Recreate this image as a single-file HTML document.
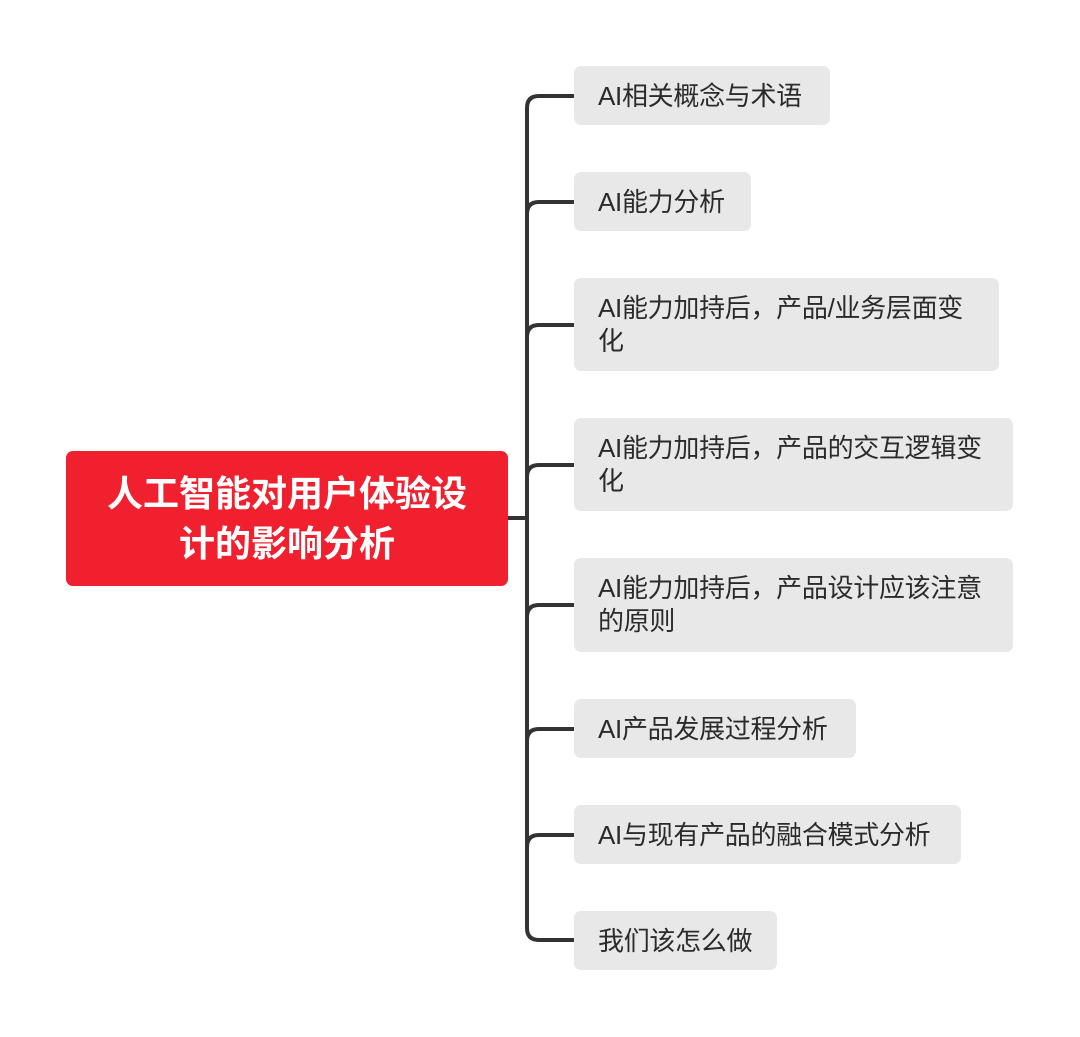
<!DOCTYPE html>
<html><head><meta charset="utf-8"><style>
body{margin:0;background:#fff;width:1080px;height:1037px;position:relative;overflow:hidden;font-family:"Liberation Sans","Noto Sans CJK SC",sans-serif}
.n{position:absolute;left:574px;background:#e8e8e8;border-radius:7px;color:#2b2b2b;font-size:26px;line-height:33px;padding:14px 0 12px 24px;box-sizing:border-box;white-space:nowrap;letter-spacing:-0.3px}
.root{position:absolute;left:66px;top:451px;width:442px;height:135px;background:#f0202e;border-radius:7px;color:#fff;font-weight:bold;font-size:36px;line-height:50px;text-align:center;display:flex;align-items:center;justify-content:center;box-sizing:border-box;white-space:nowrap}
</style></head><body>
<svg width="1080" height="1037" style="position:absolute;left:0;top:0" fill="none" stroke="#333" stroke-width="4">
<path d="M508,518 H527"/>
<path d="M574,96 H539 Q527,96 527,108 V928 Q527,940 539,940 H574"/>
<path d="M527,214 Q527,202 539,202 H574"/>
<path d="M527,337 Q527,325 539,325 H574"/>
<path d="M527,477 Q527,465 539,465 H574"/>
<path d="M527,617 Q527,605 539,605 H574"/>
<path d="M527,741 Q527,729 539,729 H574"/>
<path d="M527,847 Q527,835 539,835 H574"/>
</svg>
<div class="root"><div>人工智能对用户体验设<br>计的影响分析</div></div>
<div class="n" style="top:66px;width:256px;height:59px">AI相关概念与术语</div>
<div class="n" style="top:172px;width:177px;height:59px">AI能力分析</div>
<div class="n" style="top:278px;width:425px;height:93px">AI能力加持后，产品/业务层面变<br>化</div>
<div class="n" style="top:418px;width:439px;height:93px">AI能力加持后，产品的交互逻辑变<br>化</div>
<div class="n" style="top:558px;width:439px;height:94px">AI能力加持后，产品设计应该注意<br>的原则</div>
<div class="n" style="top:699px;width:282px;height:59px">AI产品发展过程分析</div>
<div class="n" style="top:805px;width:387px;height:59px">AI与现有产品的融合模式分析</div>
<div class="n" style="top:911px;width:203px;height:59px">我们该怎么做</div>
</body></html>
